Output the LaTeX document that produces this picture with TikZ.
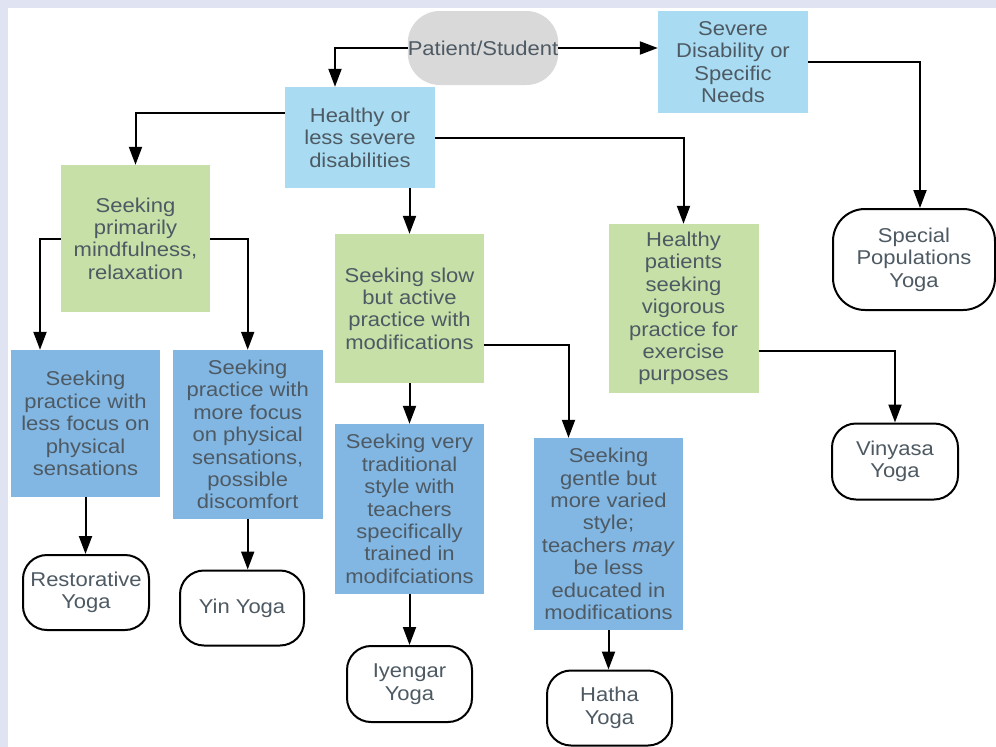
\documentclass[tikz,border=0pt]{standalone}
\usepackage{fontspec}
\setmainfont[FakeStretch=1.1]{Liberation Sans}
\usetikzlibrary{arrows.meta}
\definecolor{lav}{HTML}{E0E4F2}
\definecolor{lblue}{HTML}{A9DCF2}
\definecolor{lgreen}{HTML}{C6E0A8}
\definecolor{dblue}{HTML}{82B7E4}
\definecolor{pgray}{HTML}{D9D9D9}
\definecolor{txt}{HTML}{4E5A63}
\begin{document}
\begin{tikzpicture}[x=1pt,y=-1pt,
  box/.style={rectangle, inner sep=0pt, align=center, text=txt,
    font=\fontsize{20}{22.4}\selectfont, minimum width=150pt},
  lb/.style={box, fill=lblue},
  gb/.style={box, fill=lgreen},
  db/.style={box, fill=dblue},
  term/.style={rectangle, rounded corners=24pt, draw=black, line width=2pt,
    fill=white, align=center, text=txt, inner sep=0pt,
    font=\fontsize{20}{22.4}\selectfont, minimum width=125pt, minimum height=75pt},
  arr/.style={draw=black, line width=2pt, -{Triangle[length=18pt,width=13pt]}}]
\useasboundingbox (0,0) rectangle (996,747);
\fill[lav] (0,0) rectangle (996,747);
\fill[white] (7.5,7.5) rectangle (996,747);

\node[box, fill=pgray, rounded corners=32pt, minimum height=74pt] (ps) at (483,48) {Patient/Student};
\node[lb, minimum height=102pt] (sev) at (733,62) {Severe\\Disability or\\Specific\\Needs};
\node[term, rounded corners=32pt, minimum width=162pt, minimum height=101pt] (spy) at (914,259.5) {Special\\Populations\\Yoga};
\node[lb, minimum height=101pt] (hl) at (360,137.5) {Healthy or\\less severe\\disabilities};
\node[gb, minimum width=149pt, minimum height=147pt] (sp1) at (135.5,238.5) {Seeking\\primarily\\mindfulness,\\relaxation};
\node[db, minimum width=149pt, minimum height=147pt] (sl) at (85.5,423.5) {Seeking\\practice with\\less focus on\\physical\\sensations};
\node[db, minimum height=169pt] (sm) at (247.7,434.5) {Seeking\\practice with\\more focus\\on physical\\sensations,\\possible\\discomfort};
\node[gb, minimum width=149pt, minimum height=149pt] (ss) at (409.5,308.5) {Seeking slow\\but active\\practice with\\modifications};
\node[db, minimum width=149pt, minimum height=170pt] (sv) at (409.5,509) {Seeking very\\traditional\\style with\\teachers\\specifically\\trained in\\modifciations};
\node[db, minimum width=149pt, minimum height=192pt] (sg) at (608.5,534) {Seeking\\gentle but\\more varied\\style;\\teachers \textit{may}\\be less\\educated in\\modifications};
\node[gb, minimum height=169pt] (hp) at (683.5,308.5) {Healthy\\patients\\seeking\\vigorous\\practice for\\exercise\\purposes};
\node[term, minimum width=126pt] (rest) at (86,592.5) {Restorative\\Yoga};
\node[term, minimum width=124pt] (yin) at (242,608) {Yin Yoga};
\node[term, minimum height=76pt] (iy) at (409.5,684) {Iyengar\\Yoga};
\node[term] (ha) at (609.5,708) {Hatha\\Yoga};
\node[term, minimum width=126pt, minimum height=76pt] (vin) at (895,461.5) {Vinyasa\\Yoga};

\draw[arr] (ps.west) -| ([xshift=-25pt]hl.north);
\draw[arr] (ps.east) -- (ps.east -| sev.west);
\draw[arr] (sev.east) -| ([xshift=6pt]spy.north);
\draw[arr] ([yshift=24.5pt]hl.west) -| (sp1.north);
\draw[arr] (ss.north |- hl.south) -- (ss.north);
\draw[arr] (hl.east) -| (hp.north);
\draw[arr] (sp1.west) -| ([xshift=-45.5pt]sl.north);
\draw[arr] (sp1.east) -| (sm.north);
\draw[arr] (sl.south) -- (sl.south |- rest.north);
\draw[arr] (sm.south) -- (sm.south |- yin.north);
\draw[arr] (ss.south) -- (sv.north);
\draw[arr] ([yshift=-36pt]ss.east) -| ([xshift=-40pt]sg.north);
\draw[arr] (sv.south) -- (sv.south |- iy.north);
\draw[arr] (sg.south) -- (sg.south |- ha.north);
\draw[arr] ([yshift=-42.5pt]hp.east) -| (vin.north);
\end{tikzpicture}
\end{document}
